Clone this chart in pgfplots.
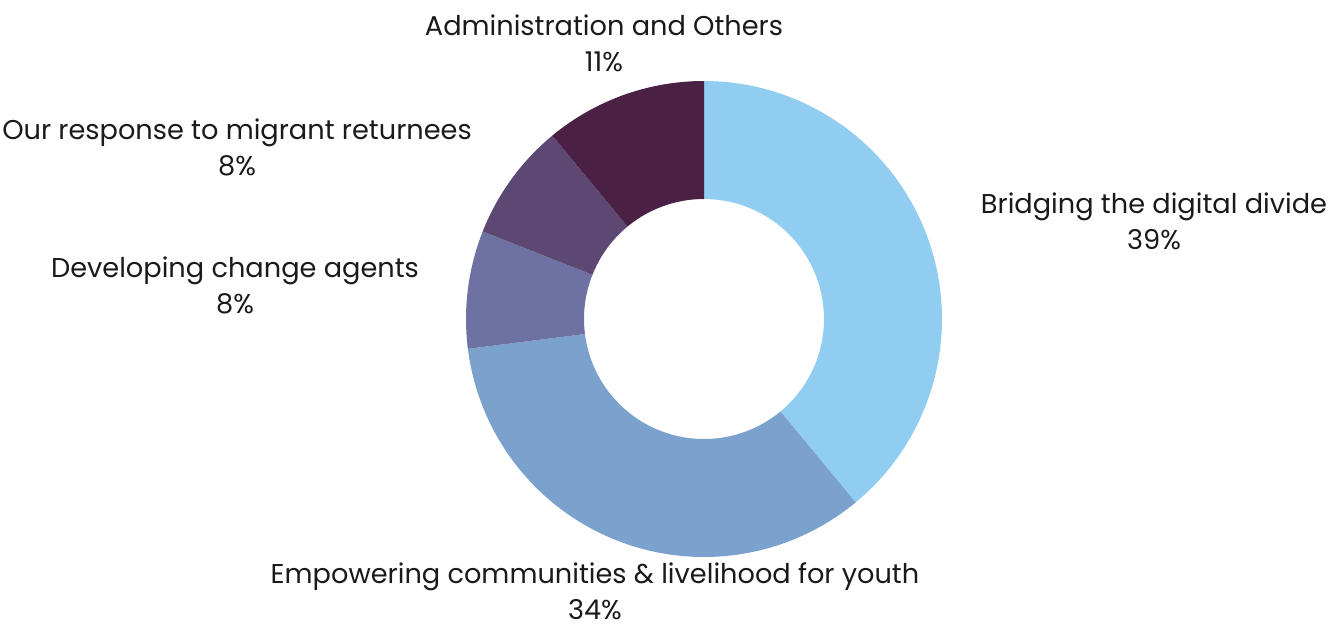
\documentclass[border=0pt]{standalone}
\usepackage{pgfplots}
\pgfplotsset{compat=1.18}
\usepgfplotslibrary{fillbetween}
\usepackage{fontspec}
\setmainfont{Poppins}
\definecolor{cBridge}{HTML}{90CDF0}
\definecolor{cEmpower}{HTML}{7BA1CD}
\definecolor{cDevelop}{HTML}{6E72A2}
\definecolor{cMigrant}{HTML}{5D4773}
\definecolor{cAdmin}{HTML}{4A2045}
\definecolor{txt}{HTML}{1A1A1A}
% #1 id, #2 cumulative percent before this slice, #3 percent, #4 colour
\newcommand{\slice}[4]{%
  \pgfmathsetmacro\aS{90-3.6*#2}%
  \pgfmathsetmacro\aE{90-3.6*(#2+#3)}%
  \addplot[draw=none, name path=out#1, domain=\aS:\aE, samples=90] ({704+238*cos(x)},{-319+238*sin(x)});
  \addplot[draw=none, name path=in#1, domain=\aS:\aE, samples=90] ({704+120*cos(x)},{-319+120*sin(x)});
  \addplot[fill=#4, draw=none] fill between[of=out#1 and in#1];
}
\tikzset{lbl/.style={font=\fontsize{13.6}{18}\selectfont, text=txt, align=center, inner sep=0pt}}
\begin{document}
\begin{tikzpicture}
\begin{axis}[
  hide axis, scale only axis, clip=false,
  width=671.5pt, height=311.5pt,
  xmin=0, xmax=1343, ymin=-623, ymax=0,
]
\path (rel axis cs:0,0) rectangle (rel axis cs:1,1);
\slice{a}{0}{39}{cBridge}
\slice{b}{39}{34}{cEmpower}
\slice{c}{73}{8}{cDevelop}
\slice{d}{81}{8}{cMigrant}
\slice{e}{89}{11}{cAdmin}
\node[lbl] at (axis cs:604,-43) {Administration and Others\\11\%};
\node[lbl] at (axis cs:237,-147) {Our response to migrant returnees\\8\%};
\node[lbl] at (axis cs:235,-285) {Developing change agents\\8\%};
\node[lbl] at (axis cs:1154,-221) {Bridging the digital divide\\39\%};
\node[lbl] at (axis cs:595,-591) {Empowering communities \& livelihood for youth\\34\%};
\end{axis}
\end{tikzpicture}
\end{document}
